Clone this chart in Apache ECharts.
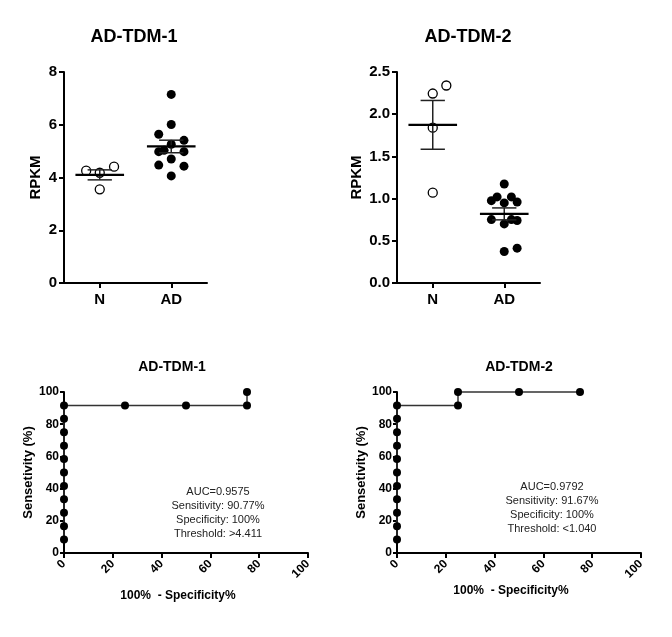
<!DOCTYPE html>
<html>
<head>
<meta charset="utf-8">
<script src="https://cdn.jsdelivr.net/npm/echarts@6/dist/echarts.min.js"></script>
<style>
html,body{margin:0;padding:0;background:#fff;}
#chart{width:672px;height:637px;}
</style>
</head>
<body>
<div id="chart"></div>
<script>
// ---------- data ----------
const groupLabels = ['N', 'AD'];
// AD-TDM-1 RPKM
const tdm1N = [4.26, 4.18, 4.41, 3.55];
const tdm1NJitter = [-0.19, 0, 0.2, 0];
const tdm1AD = [7.15, 6.01, 5.64, 5.41, 5.26, 4.98, 4.98, 5.03, 4.70, 4.47, 4.43, 4.06];
const tdm1ADJitter = [0, 0, -0.175, 0.178, 0, -0.175, 0.178, -0.1, 0, -0.175, 0.178, 0];
// AD-TDM-2 RPKM
const tdm2N = [2.245, 2.34, 1.84, 1.07];
const tdm2NJitter = [0, 0.19, 0, 0];
const tdm2AD = [1.173, 0.976, 1.02, 0.949, 1.02, 0.96, 0.751, 0.70, 0.751, 0.74, 0.373, 0.413];
const tdm2ADJitter = [0, -0.18, -0.1, 0, 0.1, 0.18, -0.18, 0, 0.1, 0.18, 0, 0.18];
// ROC curves (100% - specificity, sensitivity)
const roc1Fpr = [0, 0, 0, 0, 0, 0, 0, 0, 0, 0, 0, 25, 50, 75, 75];
const roc1Tpr = [8.33, 16.67, 25, 33.33, 41.67, 50, 58.33, 66.67, 75, 83.33, 91.67, 91.67, 91.67, 91.67, 100];
const roc2Fpr = [0, 0, 0, 0, 0, 0, 0, 0, 0, 0, 0, 25, 25, 50, 75];
const roc2Tpr = [8.33, 16.67, 25, 33.33, 41.67, 50, 58.33, 66.67, 75, 83.33, 91.67, 91.67, 100, 100, 100];
const roc1Text = ['AUC=0.9575', 'Sensitivity: 90.77%', 'Specificity: 100%', 'Threshold: >4.411'];
const roc2Text = ['AUC=0.9792', 'Sensitivity: 91.67%', 'Specificity: 100%', 'Threshold: <1.040'];

// ---------- helpers ----------
const FONT = '"Liberation Sans", Arial, sans-serif';
function mean(a){ return a.reduce((s,v)=>s+v,0)/a.length; }
function sem(a){ const m=mean(a); const v=a.reduce((s,x)=>s+(x-m)*(x-m),0)/(a.length-1); return Math.sqrt(v/a.length); }
function pts(vals, jit, center){ return vals.map((v,i)=>[center + jit[i], v]); }
function pairs(xs, ys){ return xs.map((x,i)=>[x, ys[i]]); }

function scatterX(gi){
  return {
    type:'value', gridIndex:gi, min:0.5, max:2.5,
    axisLine:{show:true, lineStyle:{color:'#000', width:2}},
    axisTick:{show:true, customValues:[1,2], length:5, lineStyle:{color:'#000', width:2}},
    axisLabel:{show:true, customValues:[1,2], formatter:v=>groupLabels[Math.round(v)-1],
      color:'#000', fontWeight:'bold', fontSize:15, fontFamily:FONT, margin:9},
    splitLine:{show:false}
  };
}
function scatterY(gi, max, interval, dec){
  return {
    type:'value', gridIndex:gi, min:0, max:max, interval:interval,
    name:'RPKM', nameLocation:'middle', nameGap:dec?33:21, nameRotate:90,
    nameTextStyle:{color:'#000', fontWeight:'bold', fontSize:15, fontFamily:FONT},
    axisLine:{show:true, lineStyle:{color:'#000', width:2}},
    axisTick:{show:true, length:5, lineStyle:{color:'#000', width:2}},
    axisLabel:{color:'#000', fontWeight:'bold', fontSize:15, fontFamily:FONT, margin:7,
      formatter:v=>dec? v.toFixed(1) : String(v)},
    splitLine:{show:false}
  };
}
function rocX(gi){
  return {
    type:'value', gridIndex:gi, min:0, max:100, interval:20,
    axisLine:{show:true, lineStyle:{color:'#000', width:2}},
    axisTick:{show:true, length:5, lineStyle:{color:'#000', width:2}},
    axisLabel:{color:'#000', fontWeight:'bold', fontSize:12, fontFamily:FONT, rotate:45, margin:9},
    splitLine:{show:false}
  };
}
function rocY(gi, gap){
  return {
    type:'value', gridIndex:gi, min:0, max:100, interval:20,
    name:'Sensetivity (%)', nameLocation:'middle', nameGap:gap, nameRotate:90,
    nameTextStyle:{color:'#000', fontWeight:'bold', fontSize:13, fontFamily:FONT},
    axisLine:{show:true, lineStyle:{color:'#000', width:2}},
    axisTick:{show:true, length:4, lineStyle:{color:'#000', width:2}},
    axisLabel:{color:'#000', fontWeight:'bold', fontSize:12, fontFamily:FONT, margin:5},
    splitLine:{show:false}
  };
}
function meanSemSeries(gi, groups){
  const data = groups.map((g,i)=>[i+1, mean(g), sem(g)]);
  return {
    type:'custom', xAxisIndex:gi, yAxisIndex:gi, z:5,
    data:data, encode:{x:0, y:1},
    renderItem:function(params, api){
      const x = api.value(0), m = api.value(1), s = api.value(2);
      const ml = api.coord([x-0.34, m]), mr = api.coord([x+0.34, m]);
      const hi = api.coord([x, m+s]), lo = api.coord([x, m-s]);
      const hl = api.coord([x-0.17, m+s]), hr = api.coord([x+0.17, m+s]);
      const ll = api.coord([x-0.17, m-s]), lr = api.coord([x+0.17, m-s]);
      const st = {stroke:'#222', lineWidth:1.5};
      return {type:'group', children:[
        {type:'line', shape:{x1:hi[0], y1:hi[1], x2:lo[0], y2:lo[1]}, style:st},
        {type:'line', shape:{x1:hl[0], y1:hl[1], x2:hr[0], y2:hr[1]}, style:st},
        {type:'line', shape:{x1:ll[0], y1:ll[1], x2:lr[0], y2:lr[1]}, style:st},
        {type:'line', shape:{x1:ml[0], y1:ml[1], x2:mr[0], y2:mr[1]}, style:{stroke:'#000', lineWidth:2.2}}
      ]};
    }
  };
}
function openPts(gi, data){
  return {type:'scatter', xAxisIndex:gi, yAxisIndex:gi, data:data, symbol:'circle', symbolSize:9, z:3,
    itemStyle:{color:'#fff', borderColor:'#000', borderWidth:1.3, opacity:1}};
}
function filledPts(gi, data){
  return {type:'scatter', xAxisIndex:gi, yAxisIndex:gi, data:data, symbol:'circle', symbolSize:9, z:3,
    itemStyle:{color:'#000', opacity:1}};
}
function rocLine(gi, data){
  return {type:'line', xAxisIndex:gi, yAxisIndex:gi, data:data, symbol:'circle', symbolSize:8,
    showSymbol:true, z:4, clip:false,
    lineStyle:{color:'#333', width:1.5}, itemStyle:{color:'#000', opacity:1}};
}

const chart = echarts.init(document.getElementById('chart'), null, {renderer:'canvas'});
const option = {
  backgroundColor:'#fff',
  animation:false,
  grid:[
    {left:64, top:72, width:143, height:211},
    {left:397, top:72, width:143, height:211},
    {left:64, top:392, width:244, height:161},
    {left:397, top:392, width:244, height:161}
  ],
  xAxis:[scatterX(0), scatterX(1), rocX(2), rocX(3)],
  yAxis:[scatterY(0, 8, 2, false), scatterY(1, 2.5, 0.5, true), rocY(2, 28), rocY(3, 29)],
  series:[
    openPts(0, pts(tdm1N, tdm1NJitter, 1)),
    filledPts(0, pts(tdm1AD, tdm1ADJitter, 2)),
    meanSemSeries(0, [tdm1N, tdm1AD]),
    openPts(1, pts(tdm2N, tdm2NJitter, 1)),
    filledPts(1, pts(tdm2AD, tdm2ADJitter, 2)),
    meanSemSeries(1, [tdm2N, tdm2AD]),
    rocLine(2, pairs(roc1Fpr, roc1Tpr)),
    rocLine(3, pairs(roc2Fpr, roc2Tpr))
  ],
  graphic:[
    {type:'text', style:{text:'AD-TDM-1', x:134, y:37, textAlign:'center', textVerticalAlign:'middle', font:'bold 18px '+FONT, fill:'#000'}},
    {type:'text', style:{text:'AD-TDM-2', x:468, y:37, textAlign:'center', textVerticalAlign:'middle', font:'bold 18px '+FONT, fill:'#000'}},
    {type:'text', style:{text:'AD-TDM-1', x:172, y:367, textAlign:'center', textVerticalAlign:'middle', font:'bold 14px '+FONT, fill:'#000'}},
    {type:'text', style:{text:'AD-TDM-2', x:519, y:367, textAlign:'center', textVerticalAlign:'middle', font:'bold 14px '+FONT, fill:'#000'}},
    {type:'text', style:{text:'100%  - Specificity%', x:178, y:596, textAlign:'center', textVerticalAlign:'middle', font:'bold 12px '+FONT, fill:'#000'}},
    {type:'text', style:{text:'100%  - Specificity%', x:511, y:591, textAlign:'center', textVerticalAlign:'middle', font:'bold 12px '+FONT, fill:'#000'}}
  ].concat(
    roc1Text.map((t,i)=>({type:'text', style:{text:t, x:218, y:492+i*14, textAlign:'center', textVerticalAlign:'middle', font:'11px '+FONT, fill:'#222'}})),
    roc2Text.map((t,i)=>({type:'text', style:{text:t, x:552, y:487+i*14, textAlign:'center', textVerticalAlign:'middle', font:'11px '+FONT, fill:'#222'}}))
  )
};
chart.setOption(option);
</script>
</body>
</html>
